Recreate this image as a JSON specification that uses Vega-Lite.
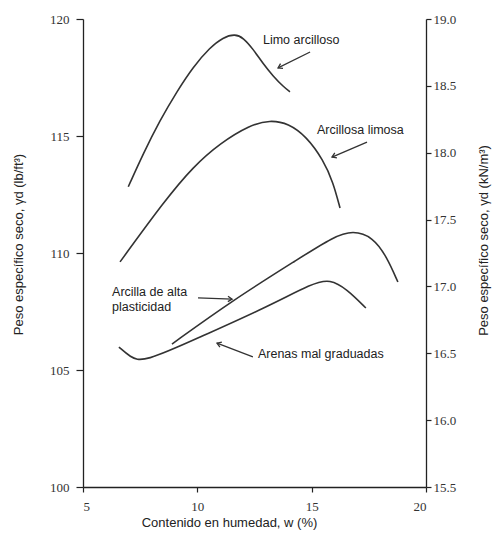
{
  "$schema": "https://vega.github.io/schema/vega-lite/v6.json",
  "width": 343,
  "height": 468,
  "autosize": {"type": "none"},
  "padding": {"left": 83, "top": 19, "right": 67, "bottom": 48},
  "background": "white",
  "config": {
    "view": {"stroke": null},
    "axis": {
      "grid": false,
      "domainColor": "#222",
      "tickColor": "#222",
      "domainWidth": 1.3,
      "tickWidth": 1.2,
      "labelFont": "Liberation Serif",
      "labelFontSize": 13,
      "labelColor": "#333",
      "titleFont": "Liberation Sans",
      "titleFontSize": 13,
      "titleFontWeight": "normal",
      "titleColor": "#222"
    }
  },
  "datasets": {
    "curves": [
      {"soil": "Limo arcilloso", "w": 6.98, "g": 112.83},
      {"soil": "Limo arcilloso", "w": 7.64, "g": 114.26},
      {"soil": "Limo arcilloso", "w": 8.37, "g": 115.68},
      {"soil": "Limo arcilloso", "w": 9.1, "g": 116.89},
      {"soil": "Limo arcilloso", "w": 9.82, "g": 117.96},
      {"soil": "Limo arcilloso", "w": 10.55, "g": 118.78},
      {"soil": "Limo arcilloso", "w": 11.13, "g": 119.22},
      {"soil": "Limo arcilloso", "w": 11.65, "g": 119.36},
      {"soil": "Limo arcilloso", "w": 12.01, "g": 119.2},
      {"soil": "Limo arcilloso", "w": 12.45, "g": 118.7},
      {"soil": "Limo arcilloso", "w": 12.88, "g": 118.08},
      {"soil": "Limo arcilloso", "w": 13.32, "g": 117.55},
      {"soil": "Limo arcilloso", "w": 13.76, "g": 117.11},
      {"soil": "Limo arcilloso", "w": 14.05, "g": 116.89},
      {"soil": "Arcillosa limosa", "w": 6.62, "g": 109.62},
      {"soil": "Arcillosa limosa", "w": 8.59, "g": 112.26},
      {"soil": "Arcillosa limosa", "w": 9.82, "g": 113.69},
      {"soil": "Arcillosa limosa", "w": 10.99, "g": 114.69},
      {"soil": "Arcillosa limosa", "w": 12.3, "g": 115.47},
      {"soil": "Arcillosa limosa", "w": 13.18, "g": 115.68},
      {"soil": "Arcillosa limosa", "w": 13.98, "g": 115.54},
      {"soil": "Arcillosa limosa", "w": 14.78, "g": 114.97},
      {"soil": "Arcillosa limosa", "w": 15.51, "g": 113.97},
      {"soil": "Arcillosa limosa", "w": 15.94, "g": 113.02},
      {"soil": "Arcillosa limosa", "w": 16.24, "g": 111.92},
      {"soil": "Arcilla de alta plasticidad", "w": 8.89, "g": 106.11},
      {"soil": "Arcilla de alta plasticidad", "w": 11.56, "g": 107.99},
      {"soil": "Arcilla de alta plasticidad", "w": 14.49, "g": 109.79},
      {"soil": "Arcilla de alta plasticidad", "w": 15.93, "g": 110.68},
      {"soil": "Arcilla de alta plasticidad", "w": 16.81, "g": 110.97},
      {"soil": "Arcilla de alta plasticidad", "w": 17.68, "g": 110.68},
      {"soil": "Arcilla de alta plasticidad", "w": 18.29, "g": 109.83},
      {"soil": "Arcilla de alta plasticidad", "w": 18.77, "g": 108.76},
      {"soil": "Arenas mal graduadas", "w": 6.57, "g": 105.98},
      {"soil": "Arenas mal graduadas", "w": 7.06, "g": 105.56},
      {"soil": "Arenas mal graduadas", "w": 7.62, "g": 105.3},
      {"soil": "Arenas mal graduadas", "w": 10.12, "g": 106.41},
      {"soil": "Arenas mal graduadas", "w": 13.05, "g": 107.69},
      {"soil": "Arenas mal graduadas", "w": 15.06, "g": 108.72},
      {"soil": "Arenas mal graduadas", "w": 15.8, "g": 108.88},
      {"soil": "Arenas mal graduadas", "w": 16.54, "g": 108.46},
      {"soil": "Arenas mal graduadas", "w": 17.37, "g": 107.65}
    ],
    "arrows": [
      {"w": 14.93, "g": 118.59, "w2": 13.53, "g2": 117.91, "ang": 153},
      {"w": 17.42, "g": 114.74, "w2": 15.89, "g2": 114.1, "ang": 157},
      {"w": 10.03, "g": 108.08, "w2": 11.52, "g2": 108.03, "ang": 2},
      {"w": 12.43, "g": 105.56, "w2": 10.86, "g2": 106.15, "ang": 201}
    ],
    "labels": [
      {"w": 12.87, "g": 119.1, "label": "Limo arcilloso"},
      {"w": 15.23, "g": 115.26, "label": "Arcillosa limosa"},
      {"w": 6.27, "g": 108.33, "label": "Arcilla de alta"},
      {"w": 6.27, "g": 107.69, "label": "plasticidad"},
      {"w": 12.65, "g": 105.68, "label": "Arenas mal graduadas"}
    ],
    "right": [
      {"w": 20, "kn": 15.5},
      {"w": 20, "kn": 19.0}
    ]
  },
  "layer": [
    {
      "layer": [
        {
          "data": {"name": "curves"},
          "mark": {"type": "line", "interpolate": "basis", "color": "#333", "strokeWidth": 1.6},
          "encoding": {
            "x": {
              "field": "w", "type": "quantitative",
              "scale": {"domain": [5, 20], "nice": false, "zero": false},
              "axis": {"values": [5, 10, 15, 20], "tickSize": 5, "labelPadding": 8, "title": "Contenido en humedad, w (%)", "titleX": 146, "titleY": 35, "titleBaseline": "middle", "titleAlign": "center"}
            },
            "y": {
              "field": "g", "type": "quantitative",
              "scale": {"domain": [100, 120], "nice": false, "zero": false},
              "axis": {"values": [100, 105, 110, 115, 120], "tickSize": 7, "labelPadding": 7, "title": "Peso específico seco, γd (lb/ft³)", "titleX": -65, "titleY": 225, "titleBaseline": "middle", "titleAlign": "center", "titleAngle": -90}
            },
            "detail": {"field": "soil"}
          }
        },
        {
          "data": {"name": "arrows"},
          "mark": {"type": "rule", "color": "#333", "strokeWidth": 1.3},
          "encoding": {
            "x": {"field": "w", "type": "quantitative"},
            "y": {"field": "g", "type": "quantitative"},
            "x2": {"field": "w2"},
            "y2": {"field": "g2"}
          }
        },
        {
          "data": {"name": "arrows"},
          "mark": {"type": "point", "shape": "M -1 -0.65 L 0 0 L -1 0.65", "filled": false, "color": "#333", "strokeWidth": 1.3, "size": 70, "opacity": 1},
          "encoding": {
            "x": {"field": "w2", "type": "quantitative"},
            "y": {"field": "g2", "type": "quantitative"},
            "angle": {"field": "ang", "type": "quantitative", "scale": null}
          }
        },
        {
          "data": {"name": "labels"},
          "mark": {"type": "text", "align": "left", "baseline": "middle", "font": "Liberation Sans", "fontSize": 12.5, "color": "#222"},
          "encoding": {
            "x": {"field": "w", "type": "quantitative"},
            "y": {"field": "g", "type": "quantitative"},
            "text": {"field": "label"}
          }
        }
      ]
    },
    {
      "data": {"name": "right"},
      "mark": {"type": "point", "opacity": 0},
      "encoding": {
        "x": {"field": "w", "type": "quantitative"},
        "y": {
          "field": "kn", "type": "quantitative",
          "scale": {"domain": [15.5, 19.0], "nice": false, "zero": false},
          "axis": {"orient": "right", "values": [15.5, 16.0, 16.5, 17.0, 17.5, 18.0, 18.5, 19.0], "format": ".1f", "tickSize": 5, "labelPadding": 2, "title": "Peso específico seco, γd (kN/m³)", "titleX": 57, "titleY": 221, "titleBaseline": "middle", "titleAlign": "center", "titleAngle": -90}
        }
      }
    }
  ],
  "resolve": {"scale": {"y": "independent"}}
}
